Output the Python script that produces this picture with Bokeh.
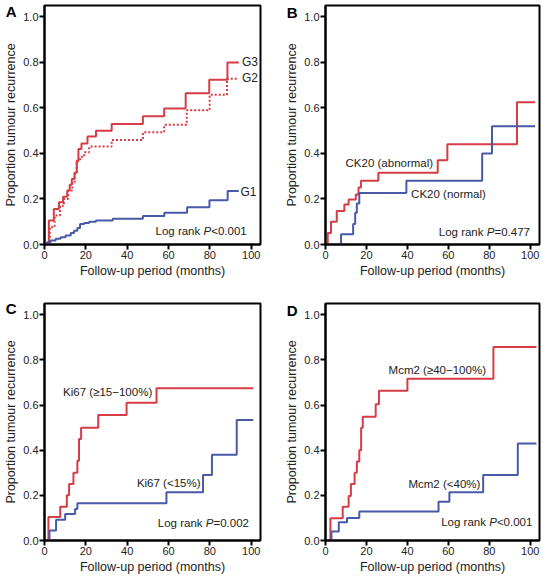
from bokeh.plotting import figure
from bokeh.models import Range1d, FixedTicker, PrintfTickFormatter, Label, LinearAxis
from bokeh.layouts import gridplot
from bokeh.embed import file_html
from bokeh.resources import INLINE

RED = "#d63c45"
BLUE = "#4a58a8"
FONT = "Liberation Sans"
TXT = "#222222"

# ---- data (months, cumulative proportion) ----
x_ticks = [0, 20, 40, 60, 80, 100]
y_ticks = [0.0, 0.2, 0.4, 0.6, 0.8, 1.0]

A_g3_x = [0, 2.1, 4.5, 7, 9, 11, 12.2, 13.2, 14.5, 15.6, 16.4, 17.9, 20.8, 24.9, 32.5, 47.6, 57.9, 68.3, 79.7, 88.5, 94]
A_g3_y = [0, 0.105, 0.156, 0.186, 0.21, 0.237, 0.262, 0.288, 0.315, 0.368, 0.42, 0.444, 0.474, 0.50, 0.529, 0.563, 0.598, 0.664, 0.724, 0.80, 0.80]
A_g2_x = [0, 2.6, 4.9, 7.5, 9.4, 11.4, 13.5, 14.6, 15.6, 16.3, 17.5, 19.2, 21.6, 32.5, 47.6, 57.9, 68.8, 79.9, 88.3, 94]
A_g2_y = [0, 0.076, 0.127, 0.17, 0.20, 0.237, 0.273, 0.31, 0.36, 0.375, 0.385, 0.405, 0.43, 0.459, 0.493, 0.526, 0.59, 0.658, 0.728, 0.728]
A_g1_x = [0, 1.3, 2.9, 5.4, 7.8, 10.2, 12.7, 14.3, 15.9, 17.2, 19.2, 21.6, 24.9, 33, 47.6, 58, 69, 79.8, 88.6, 94]
A_g1_y = [0.005, 0.01, 0.018, 0.025, 0.032, 0.04, 0.05, 0.06, 0.073, 0.09, 0.095, 0.10, 0.105, 0.113, 0.125, 0.14, 0.164, 0.194, 0.235, 0.235]

B_abn_x = [0, 1.1, 2.7, 5.5, 9.2, 11.3, 14.8, 16.1, 17.3, 25.8, 54.8, 59.5, 93.5, 102.4]
B_abn_y = [0, 0.05, 0.10, 0.147, 0.176, 0.198, 0.22, 0.25, 0.28, 0.315, 0.37, 0.44, 0.625, 0.625]
B_nor_x = [0, 7.6, 13.5, 14.5, 15.3, 16.5, 39.5, 76.5, 81.3, 102.4]
B_nor_y = [0, 0.045, 0.09, 0.14, 0.18, 0.226, 0.28, 0.40, 0.52, 0.52]

C_hi_x = [0, 1.9, 7.6, 10.8, 11.9, 14, 15.9, 16.7, 17.7, 26, 39.7, 54.2, 101]
C_hi_y = [0, 0.104, 0.15, 0.20, 0.25, 0.30, 0.353, 0.45, 0.50, 0.556, 0.61, 0.675, 0.675]
C_lo_x = [0, 2.4, 5.6, 10, 14.8, 15.9, 59, 76.7, 81, 93, 101]
C_lo_y = [0, 0.044, 0.092, 0.117, 0.14, 0.165, 0.214, 0.29, 0.38, 0.534, 0.534]

D_hi_x = [0, 2.4, 8.4, 11.3, 12.4, 14.2, 15.3, 16.5, 17.4, 18.2, 24.5, 26.1, 40, 82, 103]
D_hi_y = [0, 0.099, 0.15, 0.197, 0.25, 0.30, 0.35, 0.40, 0.50, 0.548, 0.604, 0.663, 0.717, 0.857, 0.857]
D_lo_x = [0, 2.9, 6.5, 10.5, 16.5, 55.2, 60.5, 77, 93.9, 103]
D_lo_y = [0, 0.04, 0.081, 0.10, 0.128, 0.172, 0.214, 0.29, 0.43, 0.43]


def style_axis(ax):
    ax.axis_line_width = 2
    ax.axis_line_color = "black"
    ax.major_tick_line_width = 2
    ax.major_tick_line_color = "black"
    ax.major_tick_out = 5
    ax.major_tick_in = 0
    ax.minor_tick_line_color = None
    ax.major_label_text_font = FONT
    ax.major_label_text_font_size = "11px"
    ax.major_label_text_color = TXT
    ax.major_label_standoff = 1
    ax.axis_label_text_font = FONT
    ax.axis_label_text_font_size = "12.5px"
    ax.axis_label_text_font_style = "normal"
    ax.axis_label_text_color = TXT
    ax.axis_label_standoff = 2


def make_panel(letter, width, left, right, top, frame_h, bottom, letter_tick):
    height = top + frame_h + bottom
    p = figure(width=width, height=height, output_backend="svg", toolbar_location=None,
               x_range=Range1d(0, 104.5), y_range=Range1d(0, 1.05),
               min_border_left=left, min_border_right=right,
               min_border_top=top, min_border_bottom=bottom)
    p.grid.visible = False
    p.outline_line_color = "black"
    p.outline_line_width = 2
    p.outline_line_alpha = 1
    p.background_fill_color = "white"
    p.border_fill_color = "white"
    style_axis(p.xaxis[0])
    style_axis(p.yaxis[0])
    p.xaxis[0].ticker = FixedTicker(ticks=x_ticks)
    p.yaxis[0].ticker = FixedTicker(ticks=y_ticks)
    p.yaxis[0].formatter = PrintfTickFormatter(format="%.1f")
    p.xaxis[0].axis_label = "Follow-up period (months)"
    # outer left axis carries the panel letter (as its only tick label) and the y title
    la = LinearAxis(ticker=FixedTicker(ticks=[letter_tick]),
                    major_label_overrides={letter_tick: letter},
                    axis_line_color=None, major_tick_line_color=None,
                    minor_tick_line_color=None, major_tick_out=0, major_tick_in=0,
                    major_label_standoff=4,
                    major_label_text_font=FONT, major_label_text_font_size="15px",
                    major_label_text_font_style="bold", major_label_text_color="black",
                    axis_label="Proportion tumour recurrence",
                    axis_label_text_font=FONT, axis_label_text_font_size="12.5px",
                    axis_label_text_font_style="normal", axis_label_text_color=TXT,
                    axis_label_standoff=-15)
    p.add_layout(la, "left")
    return p


def add_text(p, x, y, text, size="11.5px"):
    p.add_layout(Label(x=x, y=y, text=text, text_font=FONT, text_font_size=size,
                       text_color=TXT, text_baseline="middle", text_align="left"))


def add_logrank(p, x, y, rel, pval):
    add_text(p, x, y, "Log rank")
    p.add_layout(Label(x=x, y=y, x_offset=48, text="P", text_font=FONT, text_font_size="11.5px",
                       text_font_style="italic", text_color=TXT, text_baseline="middle"))
    p.add_layout(Label(x=x, y=y, x_offset=55.7, text=rel + pval, text_font=FONT,
                       text_font_size="11.5px", text_color=TXT, text_baseline="middle"))


# Panel A
pa = make_panel("A", 272, 44, 12, 5, 239, 45, 1.024)
pa.step(A_g3_x, A_g3_y, mode="after", line_color=RED, line_width=2)
pa.step(A_g2_x, A_g2_y, mode="after", line_color=RED, line_width=2, line_dash="2 2")
pa.step(A_g1_x, A_g1_y, mode="after", line_color=BLUE, line_width=2)
add_text(pa, 95.5, 0.80, "G3", "12px")
add_text(pa, 95.5, 0.732, "G2", "12px")
add_text(pa, 94.8, 0.232, "G1", "12px")
add_logrank(pa, 53.7, 0.061, "<", "0.001")

# Panel B
pb = make_panel("B", 271, 53, 4, 5, 239, 45, 1.02)
pb.step(B_abn_x, B_abn_y, mode="after", line_color=RED, line_width=2)
pb.step(B_nor_x, B_nor_y, mode="after", line_color=BLUE, line_width=2)
add_text(pb, 9.8, 0.356, "CK20 (abnormal)")
add_text(pb, 41.8, 0.224, "CK20 (normal)")
add_logrank(pb, 55.3, 0.057, "=", "0.477")

# Panel C
pc = make_panel("C", 272, 44, 12, 14, 237, 37, 1.026)
pc.step(C_hi_x, C_hi_y, mode="after", line_color=RED, line_width=2)
pc.step(C_lo_x, C_lo_y, mode="after", line_color=BLUE, line_width=2)
add_text(pc, 9.0, 0.66, "Ki67 (\u226515\u2212100%)")
add_text(pc, 44.7, 0.256, "Ki67 (<15%)")
add_logrank(pc, 54.8, 0.076, "=", "0.002")

# Panel D
pd_ = make_panel("D", 271, 53, 4, 14, 237, 37, 1.018)
pd_.step(D_hi_x, D_hi_y, mode="after", line_color=RED, line_width=2)
pd_.step(D_lo_x, D_lo_y, mode="after", line_color=BLUE, line_width=2)
add_text(pd_, 30.8, 0.754, "Mcm2 (\u226540\u2212100%)")
add_text(pd_, 40.5, 0.25, "Mcm2 (<40%)")
add_logrank(pd_, 56.5, 0.084, "<", "0.001")

grid = gridplot([[pa, pb], [pc, pd_]], toolbar_location=None)

open("out.html", "w").write(file_html(grid, INLINE))
